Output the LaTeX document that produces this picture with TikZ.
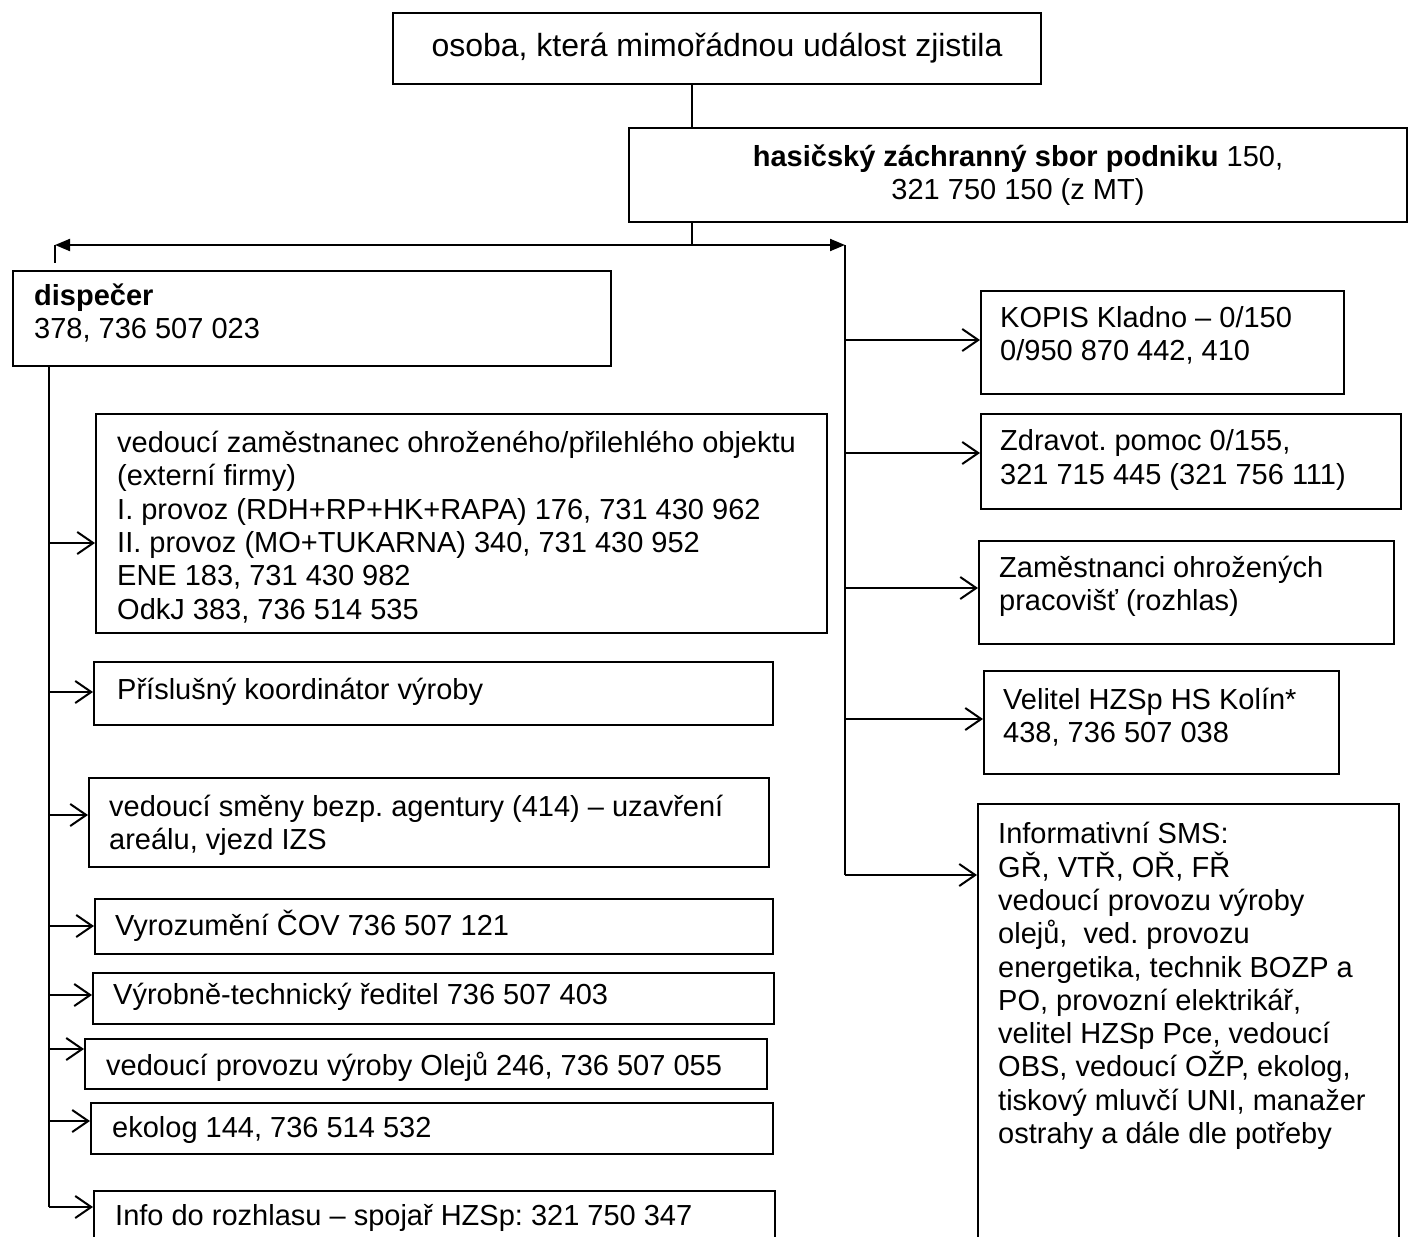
\documentclass[tikz,border=0pt]{standalone}
\usepackage{fontspec}
\setmainfont{Liberation Sans}
\usetikzlibrary{arrows.meta}

\begin{document}
\frenchspacing
\begin{tikzpicture}[x=1pt, y=-1pt,
	bstyle/.style={draw, line width=2pt, anchor=north west, inner sep=0pt},
	fstyle/.style={font=\fontsize{29}{33.3}\selectfont},
	tstyle/.style={fstyle, inner sep=0pt, align=left, anchor=west},
	conn/.style={line width=2pt},
	barb/.style={line width=2pt, -{Straight Barb[length=16pt, width=22pt, line width=2pt]}}
	]
	\useasboundingbox[fill=white] (0,0) rectangle (1414,1237);

	\node[bstyle, font=\fontsize{32}{36}\selectfont, align=center, minimum width=648pt, minimum height=71pt] (osoba) at (392,12) {osoba, která mimořádnou událost zjistila};
	\node[bstyle, fstyle, align=center, minimum width=778pt, minimum height=94pt] (hzs) at (628,127) {\textbf{hasičský záchranný sbor podniku} 150,\\321 750 150 (z MT)};

	\node[bstyle, minimum width=598pt, minimum height=95pt] (disp) at (12,270) {};
	\node[tstyle] (dispt) at (34,313) {\textbf{dispečer}\\378, 736 507 023};

	\node[bstyle, minimum width=731pt, minimum height=219pt] (vedouci) at (95,413) {};
	\node[tstyle] (vedoucit) at (117,527) {vedoucí zaměstnanec ohroženého/přilehlého objektu\\(externí firmy)\\I. provoz (RDH+RP+HK+RAPA) 176, 731 430 962\\II. provoz (MO+TUKARNA) 340, 731 430 952\\ENE 183, 731 430 982\\OdkJ 383, 736 514 535};
	\node[bstyle, minimum width=679pt, minimum height=63pt] (koord) at (93,661) {};
	\node[tstyle] (koordt) at (117,692) {Příslušný koordinátor výroby};
	\node[bstyle, minimum width=680pt, minimum height=89pt] (smena) at (88,777) {};
	\node[tstyle] (smenat) at (109,825) {vedoucí směny bezp. agentury (414) – uzavření\\areálu, vjezd IZS};
	\node[bstyle, minimum width=678pt, minimum height=55pt] (cov) at (94,898) {};
	\node[tstyle] (covt) at (115,926) {Vyrozumění ČOV 736 507 121};
	\node[bstyle, minimum width=681pt, minimum height=51pt] (reditel) at (92,972) {};
	\node[tstyle] (reditelt) at (113,997) {Výrobně-technický ředitel 736 507 403};
	\node[bstyle, minimum width=682pt, minimum height=50pt] (oleje) at (84,1038) {};
	\node[tstyle] (olejet) at (106,1067) {vedoucí provozu výroby Olejů 246, 736 507 055};
	\node[bstyle, minimum width=682pt, minimum height=51pt] (ekolog) at (90,1102) {};
	\node[tstyle] (ekologt) at (112,1130) {ekolog 144, 736 514 532};
	\node[bstyle, minimum width=681pt, minimum height=70pt] (rozhlas) at (93,1190) {};
	\node[tstyle] (rozhlast) at (115,1218) {Info do rozhlasu – spojař HZSp: 321 750 347};

	\node[bstyle, minimum width=363pt, minimum height=103pt] (kopis) at (980,290) {};
	\node[tstyle] (kopist) at (1000,335) {KOPIS Kladno – 0/150\\0/950 870 442, 410};
	\node[bstyle, minimum width=420pt, minimum height=95pt] (zdravot) at (980,413) {};
	\node[tstyle] (zdravott) at (1000,460) {Zdravot. pomoc 0/155,\\321 715 445 (321 756 111)};
	\node[bstyle, minimum width=415pt, minimum height=103pt] (zam) at (978,540) {};
	\node[tstyle] (zamt) at (999,586) {Zaměstnanci ohrožených\\pracovišť (rozhlas)};
	\node[bstyle, minimum width=355pt, minimum height=103pt] (velitel) at (983,670) {};
	\node[tstyle] (velitelt) at (1003,717) {Velitel HZSp HS Kolín*\\438, 736 507 038};
	\node[bstyle, minimum width=421pt, minimum height=457pt] (sms) at (977,803) {};
	\node[tstyle] (smst) at (998,986) {Informativní SMS:\\GŘ, VTŘ, OŘ, FŘ\\vedoucí provozu výroby\\olejů,~ ved. provozu\\energetika, technik BOZP a\\PO, provozní elektrikář,\\velitel HZSp Pce, vedoucí\\OBS, vedoucí OŽP, ekolog,\\tiskový mluvčí UNI, manažer\\ostrahy a dále dle potřeby};

	\coordinate (h) at (692,245);
	\coordinate (lend) at (55,245);
	\coordinate (lstub) at (55,263);
	\coordinate (rend) at (845,245);
	\coordinate (l1) at (49,543);
	\coordinate (l2) at (49,692);
	\coordinate (l3) at (49,815);
	\coordinate (l4) at (49,926);
	\coordinate (l5) at (49,995);
	\coordinate (l6) at (49,1049);
	\coordinate (l7) at (49,1121);
	\coordinate (l8) at (49,1207);
	\coordinate (r1) at (845,340);
	\coordinate (r2) at (845,453);
	\coordinate (r3) at (845,588);
	\coordinate (r4) at (845,719);
	\coordinate (r5) at (845,875);

	\draw[line width=1.3pt] (osoba.south -| h) to (hzs.north -| h);
	\draw[line width=1.3pt] (hzs.south -| h) to (h);
	\draw[conn, {Triangle[length=15pt, width=12pt]}-{Triangle[length=15pt, width=12pt]}] (lend) to (rend);
	\draw[conn] (lend) to (lstub);
	\draw[conn] (disp.south -| l1) to (l8);
	\draw[conn] (rend) to (r5);

	\draw[barb] (l1) to (l1 -| vedouci.west);
	\draw[barb] (l2) to (l2 -| koord.west);
	\draw[barb] (l3) to (l3 -| smena.west);
	\draw[barb] (l4) to (l4 -| cov.west);
	\draw[barb] (l5) to (l5 -| reditel.west);
	\draw[barb] (l6) to (l6 -| oleje.west);
	\draw[barb] (l7) to (l7 -| ekolog.west);
	\draw[barb] (l8) to (l8 -| rozhlas.west);

	\draw[barb] (r1) to (r1 -| kopis.west);
	\draw[barb] (r2) to (r2 -| zdravot.west);
	\draw[barb] (r3) to (r3 -| zam.west);
	\draw[barb] (r4) to (r4 -| velitel.west);
	\draw[barb] (r5) to (r5 -| sms.west);
\end{tikzpicture}
\end{document}
